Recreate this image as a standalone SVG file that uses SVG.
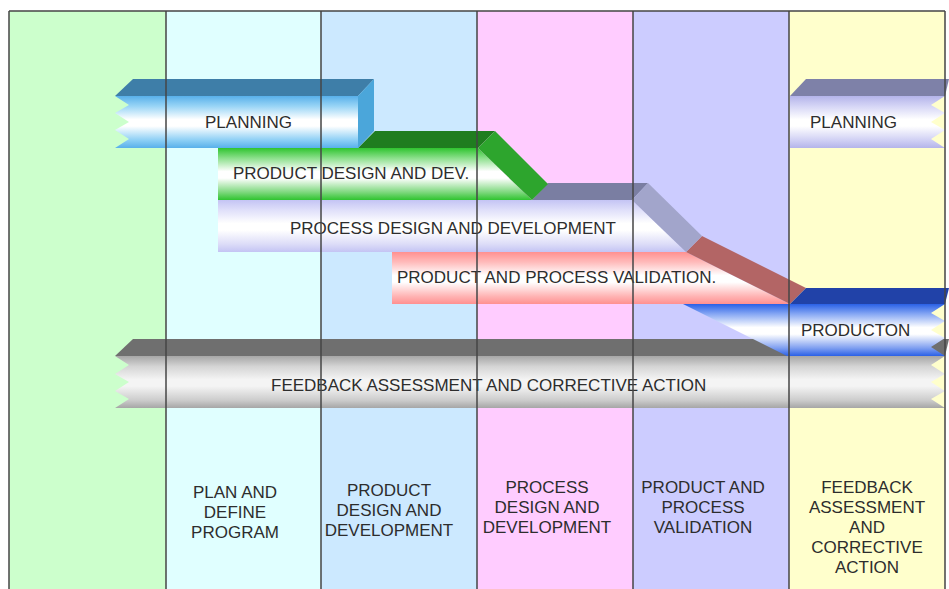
<svg xmlns="http://www.w3.org/2000/svg" width="949" height="589" viewBox="0 0 949 589">
<defs>
<linearGradient id="gBlue" x1="0" y1="0" x2="0" y2="1"><stop offset="0" stop-color="#58b0ea"/><stop offset="0.2" stop-color="#9ad5f6"/><stop offset="0.45" stop-color="#ffffff"/><stop offset="0.58" stop-color="#ffffff"/><stop offset="0.85" stop-color="#8ccff5"/><stop offset="1" stop-color="#58b0ea"/></linearGradient>
<linearGradient id="gGreen" x1="0" y1="0" x2="0" y2="1"><stop offset="0" stop-color="#2fc42f"/><stop offset="0.2" stop-color="#8ee08e"/><stop offset="0.45" stop-color="#ffffff"/><stop offset="0.58" stop-color="#ffffff"/><stop offset="0.85" stop-color="#7ed87e"/><stop offset="1" stop-color="#2fc42f"/></linearGradient>
<linearGradient id="gLav" x1="0" y1="0" x2="0" y2="1"><stop offset="0" stop-color="#c4c4f4"/><stop offset="0.2" stop-color="#e0e0fa"/><stop offset="0.45" stop-color="#ffffff"/><stop offset="0.58" stop-color="#ffffff"/><stop offset="0.85" stop-color="#dcdcf8"/><stop offset="1" stop-color="#c4c4f4"/></linearGradient>
<linearGradient id="gPink" x1="0" y1="0" x2="0" y2="1"><stop offset="0" stop-color="#ff9090"/><stop offset="0.2" stop-color="#ffbcbc"/><stop offset="0.45" stop-color="#ffffff"/><stop offset="0.58" stop-color="#ffffff"/><stop offset="0.85" stop-color="#ffb4b4"/><stop offset="1" stop-color="#ff9090"/></linearGradient>
<linearGradient id="gProd" x1="0" y1="0" x2="0" y2="1"><stop offset="0" stop-color="#2a60e6"/><stop offset="0.2" stop-color="#8aaaf4"/><stop offset="0.45" stop-color="#ffffff"/><stop offset="0.58" stop-color="#ffffff"/><stop offset="0.85" stop-color="#7e9ef0"/><stop offset="1" stop-color="#2a60e6"/></linearGradient>
<linearGradient id="gGray" x1="0" y1="0" x2="0" y2="1"><stop offset="0" stop-color="#a6a6a6"/><stop offset="0.2" stop-color="#d4d4d4"/><stop offset="0.45" stop-color="#f4f4f4"/><stop offset="0.58" stop-color="#f4f4f4"/><stop offset="0.85" stop-color="#cccccc"/><stop offset="1" stop-color="#a6a6a6"/></linearGradient>
<linearGradient id="gLav2" x1="0" y1="0" x2="0" y2="1"><stop offset="0" stop-color="#b4b4ea"/><stop offset="0.2" stop-color="#d6d6f6"/><stop offset="0.45" stop-color="#ffffff"/><stop offset="0.58" stop-color="#ffffff"/><stop offset="0.85" stop-color="#d0d0f4"/><stop offset="1" stop-color="#b4b4ea"/></linearGradient>
</defs>
<style>
text{font-family:"Liberation Sans",Arial,sans-serif;font-size:17px;fill:#2d2d2d}
.lbl{text-anchor:middle}
.bd{stroke:#454545;stroke-width:1.5;fill:none}
</style>
<g id="columns">
<rect x="9" y="11" width="157" height="578" fill="#ccffcc"/>
<rect x="166" y="11" width="155" height="578" fill="#e0ffff"/>
<rect x="321" y="11" width="156" height="578" fill="#cce9ff"/>
<rect x="477" y="11" width="156" height="578" fill="#ffccff"/>
<rect x="633" y="11" width="156" height="578" fill="#ccccff"/>
<rect x="789" y="11" width="156" height="578" fill="#ffffcc"/>
</g>
<g id="bar-feedback">
<polygon points="115,356 133,339 949,339 945,356" fill="#6f6f6f"/>
<polygon points="115,356 945,356 931,365 945,374 931,382 945,391 931,399 945,408 115,408 129,399 115,391 129,382 115,374 129,365" fill="url(#gGray)"/>
<text x="271" y="391">FEEDBACK ASSESSMENT AND CORRECTIVE ACTION</text>
</g>
<g id="bar-validation">
<polygon points="392,252 686,252 790,304 392,304" fill="url(#gPink)"/>
<polygon points="686,252 702,236 806,288 790,304" fill="#b36565"/>
<text x="397" y="283">PRODUCT AND PROCESS VALIDATION.</text>
</g>
<g id="bar-process">
<polygon points="532,200 548,183 648,183 632,200" fill="#7a7ea2"/>
<polygon points="218,200 632,200 686,252 218,252" fill="url(#gLav)"/>
<polygon points="632,200 648,183 702,236 686,252" fill="#a2a5cb"/>
<text x="290" y="234">PROCESS DESIGN AND DEVELOPMENT</text>
</g>
<g id="bar-product-design">
<polygon points="358,148 375,131 495,131 478,148" fill="#1f7d1f"/>
<polygon points="218,148 478,148 532,200 218,200" fill="url(#gGreen)"/>
<polygon points="478,148 495,131 548,184 532,200" fill="#2da52d"/>
<text x="233" y="179">PRODUCT DESIGN AND DEV.</text>
</g>
<g id="bar-planning-left">
<polygon points="115,96 133,79 374,79 358,96" fill="#3e7ea8"/>
<polygon points="115,96 358,96 358,148 115,148 129,139 115,130 129,122 115,113 129,105" fill="url(#gBlue)"/>
<polygon points="358,96 374,79 374,131 358,148" fill="#4ba6da"/>
<text x="205" y="128">PLANNING</text>
</g>
<g id="bar-production">
<polygon points="790,304 806,288 949,288 945,304" fill="#2142a8"/>
<polygon points="683,304 945,304 931,313 945,321 931,330 945,338 931,347 945,356 787,356" fill="url(#gProd)"/>
<text x="801" y="336">PRODUCTON</text>
</g>
<g id="bar-planning-right">
<polygon points="790,96 806,79 949,79 945,96" fill="#7e81a8"/>
<polygon points="790,96 945,96 931,105 945,113 931,122 945,130 931,139 945,148 790,148" fill="url(#gLav2)"/>
<text x="810" y="128">PLANNING</text>
</g>
<g id="column-borders">
<path class="bd" d="M9,11H945M9,11V589M166,11V589M321,11V589M477,11V589M633,11V589M789,11V589M945,11V589"/>
</g>
<g id="label-plan">
<text class="lbl" x="235" y="498">PLAN AND</text>
<text class="lbl" x="235" y="518">DEFINE</text>
<text class="lbl" x="235" y="538">PROGRAM</text>
</g>
<g id="label-product">
<text class="lbl" x="389" y="496">PRODUCT</text>
<text class="lbl" x="389" y="516">DESIGN AND</text>
<text class="lbl" x="389" y="536">DEVELOPMENT</text>
</g>
<g id="label-process">
<text class="lbl" x="547" y="493">PROCESS</text>
<text class="lbl" x="547" y="513">DESIGN AND</text>
<text class="lbl" x="547" y="533">DEVELOPMENT</text>
</g>
<g id="label-validation">
<text class="lbl" x="703" y="493">PRODUCT AND</text>
<text class="lbl" x="703" y="513">PROCESS</text>
<text class="lbl" x="703" y="533">VALIDATION</text>
</g>
<g id="label-feedback">
<text class="lbl" x="867" y="493">FEEDBACK</text>
<text class="lbl" x="867" y="513">ASSESSMENT</text>
<text class="lbl" x="867" y="533">AND</text>
<text class="lbl" x="867" y="553">CORRECTIVE</text>
<text class="lbl" x="867" y="573">ACTION</text>
</g>
</svg>
